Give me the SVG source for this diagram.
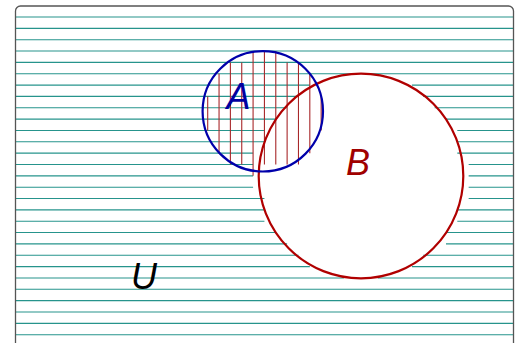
<svg xmlns="http://www.w3.org/2000/svg" width="521" height="343" viewBox="0 0 521 343">
  <style>
    .h { stroke: #26948c; stroke-width: 1.1; fill: none; }
    .v { stroke: #a8282a; stroke-width: 1.1; fill: none; }
    .lbl { font-family: "Liberation Sans", Arial, sans-serif; font-style: italic; font-size: 36px; text-anchor: middle; }
  </style>
  <rect width="521" height="343" fill="#ffffff"/>
  <g id="U">
    <g id="U-hatch" class="h">
      <line x1="15.5" y1="17.00" x2="513.5" y2="17.00"/>
      <line x1="15.5" y1="28.35" x2="513.5" y2="28.35"/>
      <line x1="15.5" y1="39.69" x2="513.5" y2="39.69"/>
      <line x1="15.5" y1="51.04" x2="513.5" y2="51.04"/>
      <line x1="15.5" y1="62.38" x2="513.5" y2="62.38"/>
      <line x1="15.5" y1="73.73" x2="355.20" y2="73.73"/><line x1="366.54" y1="73.73" x2="513.5" y2="73.73"/>
      <line x1="15.5" y1="85.08" x2="309.81" y2="85.08"/><line x1="411.93" y1="85.08" x2="513.5" y2="85.08"/>
      <line x1="15.5" y1="96.42" x2="298.47" y2="96.42"/><line x1="423.27" y1="96.42" x2="513.5" y2="96.42"/>
      <line x1="15.5" y1="107.77" x2="287.12" y2="107.77"/><line x1="434.62" y1="107.77" x2="513.5" y2="107.77"/>
      <line x1="15.5" y1="119.11" x2="275.78" y2="119.11"/><line x1="445.97" y1="119.11" x2="513.5" y2="119.11"/>
      <line x1="15.5" y1="130.46" x2="264.43" y2="130.46"/><line x1="457.31" y1="130.46" x2="513.5" y2="130.46"/>
      <line x1="15.5" y1="141.81" x2="264.43" y2="141.81"/><line x1="457.31" y1="141.81" x2="513.5" y2="141.81"/>
      <line x1="15.5" y1="153.15" x2="253.08" y2="153.15"/><line x1="457.31" y1="153.15" x2="513.5" y2="153.15"/>
      <line x1="15.5" y1="164.50" x2="253.08" y2="164.50"/><line x1="468.66" y1="164.50" x2="513.5" y2="164.50"/>
      <line x1="15.5" y1="175.84" x2="253.08" y2="175.84"/><line x1="468.66" y1="175.84" x2="513.5" y2="175.84"/>
      <line x1="15.5" y1="187.19" x2="253.08" y2="187.19"/><line x1="468.66" y1="187.19" x2="513.5" y2="187.19"/>
      <line x1="15.5" y1="198.54" x2="264.43" y2="198.54"/><line x1="468.66" y1="198.54" x2="513.5" y2="198.54"/>
      <line x1="15.5" y1="209.88" x2="264.43" y2="209.88"/><line x1="457.31" y1="209.88" x2="513.5" y2="209.88"/>
      <line x1="15.5" y1="221.23" x2="264.43" y2="221.23"/><line x1="457.31" y1="221.23" x2="513.5" y2="221.23"/>
      <line x1="15.5" y1="232.57" x2="275.78" y2="232.57"/><line x1="445.97" y1="232.57" x2="513.5" y2="232.57"/>
      <line x1="15.5" y1="243.92" x2="287.12" y2="243.92"/><line x1="445.97" y1="243.92" x2="513.5" y2="243.92"/>
      <line x1="15.5" y1="255.27" x2="298.47" y2="255.27"/><line x1="423.27" y1="255.27" x2="513.5" y2="255.27"/>
      <line x1="15.5" y1="266.61" x2="309.81" y2="266.61"/><line x1="411.93" y1="266.61" x2="513.5" y2="266.61"/>
      <line x1="15.5" y1="277.96" x2="343.85" y2="277.96"/><line x1="377.89" y1="277.96" x2="513.5" y2="277.96"/>
      <line x1="15.5" y1="289.30" x2="513.5" y2="289.30"/>
      <line x1="15.5" y1="300.65" x2="513.5" y2="300.65"/>
      <line x1="15.5" y1="312.00" x2="513.5" y2="312.00"/>
      <line x1="15.5" y1="323.34" x2="513.5" y2="323.34"/>
      <line x1="15.5" y1="334.69" x2="513.5" y2="334.69"/>
    </g>
    <rect x="15.5" y="6" width="498" height="360" rx="5" ry="5" fill="none" stroke="#555555" stroke-width="1.3"/>
    <text class="lbl" x="144" y="289" fill="#000000">U</text>
  </g>
  <g id="A-hatch" class="v">
    <line x1="207.70" y1="96.42" x2="207.70" y2="130.46"/>
    <line x1="219.05" y1="73.73" x2="219.05" y2="153.15"/>
    <line x1="230.39" y1="62.38" x2="230.39" y2="164.50"/>
    <line x1="241.74" y1="62.38" x2="241.74" y2="164.50"/>
    <line x1="253.08" y1="51.04" x2="253.08" y2="175.84"/>
    <line x1="264.43" y1="51.04" x2="264.43" y2="164.50"/>
    <line x1="275.78" y1="51.04" x2="275.78" y2="164.50"/>
    <line x1="287.12" y1="62.38" x2="287.12" y2="164.50"/>
    <line x1="298.47" y1="62.38" x2="298.47" y2="164.50"/>
    <line x1="309.81" y1="73.73" x2="309.81" y2="153.15"/>
    <line x1="321.16" y1="96.42" x2="321.16" y2="130.46"/>
  </g>
  <g id="B">
    <circle cx="361" cy="176" r="102.3" fill="none" stroke="#b00000" stroke-width="2.2"/>
    <text class="lbl" x="358" y="175" fill="#a00000">B</text>
  </g>
  <g id="A">
    <circle cx="262.8" cy="111.3" r="60.2" fill="none" stroke="#0000aa" stroke-width="2.2"/>
    <text class="lbl" x="238.5" y="108.5" fill="#0000a0">A</text>
  </g>
  <g id="connectors"/>
</svg>
